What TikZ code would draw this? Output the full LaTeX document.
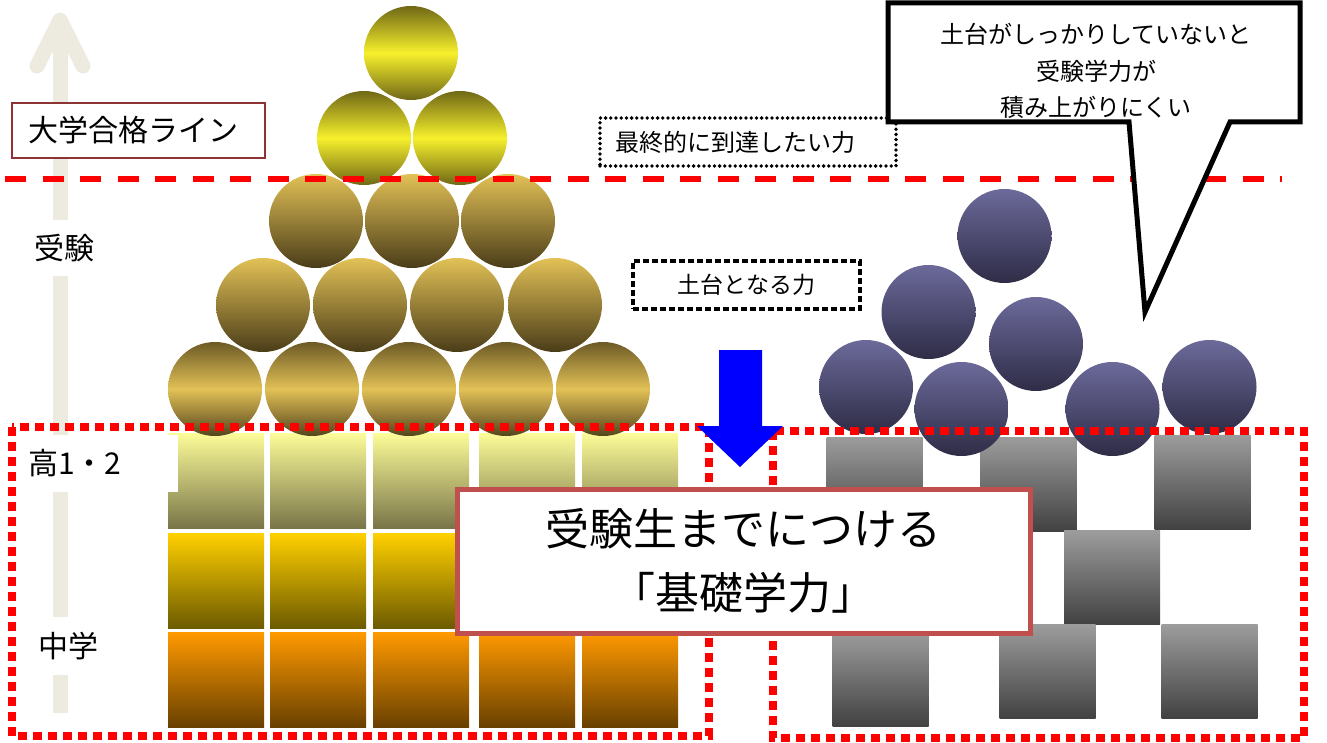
\documentclass[tikz,border=0pt]{standalone}
\usepackage{fontspec}
\setmainfont{Noto Sans CJK JP}
\usepackage{tikz}
\usetikzlibrary{positioning,calc}

\definecolor{ylwDark}{RGB}{112,104,22}
\definecolor{ylwLight}{RGB}{246,240,44}
\definecolor{goldLight}{RGB}{226,193,86}
\definecolor{goldDark}{RGB}{74,60,24}
\definecolor{goldEdge}{RGB}{108,90,38}
\definecolor{navyLight}{RGB}{108,106,154}
\definecolor{navyDark}{RGB}{46,44,70}
\definecolor{grayLight}{RGB}{156,156,156}
\definecolor{grayDark}{RGB}{66,66,66}
\definecolor{lemonTop}{RGB}{252,252,152}
\definecolor{lemonBot}{RGB}{120,116,72}
\definecolor{amberTop}{RGB}{255,208,0}
\definecolor{amberBot}{RGB}{108,90,0}
\definecolor{orangeTop}{RGB}{255,153,0}
\definecolor{orangeBot}{RGB}{104,64,0}
\definecolor{beige}{RGB}{237,235,224}
\definecolor{lineRed}{RGB}{255,0,0}
\definecolor{boxRed}{RGB}{140,52,52}
\definecolor{calloutRed}{RGB}{192,80,77}

\begin{document}
\begin{tikzpicture}[x=1pt,y=-1pt,
    ball/.style={circle, minimum size=94pt, inner sep=0pt},
    topball/.style={ball, top color=ylwDark, bottom color=ylwDark, middle color=ylwLight},
    midball/.style={ball, top color=goldLight, bottom color=goldDark},
    lowball/.style={ball, top color=goldEdge, bottom color=goldDark!70!goldEdge, middle color=goldLight},
    navyball/.style={ball, top color=navyLight, bottom color=navyDark},
    block/.style={rectangle, minimum width=96pt, minimum height=95pt, inner sep=0pt},
    grayblock/.style={block, minimum height=94pt, top color=grayLight, bottom color=grayDark},
    redframe/.style={lineRed, line width=7.5pt, dash pattern=on 9pt off 6pt},
    sidelabel/.style={fill=white, inner sep=0pt, font=\fontsize{30}{36}\selectfont}]
    \useasboundingbox (0,0) rectangle (1327,743);

    % Draw level arrow
    \draw[beige, line width=15pt] (60,713) -- (60,22);
    \draw[beige, line width=15pt, line cap=round, line join=round] (37,66) -- (60,20) -- (83,66);

    % Draw gold blocks
    \foreach \x [count=\i] in {216,318,421,527,630} {
        \node[block, top color=lemonTop, bottom color=lemonBot] (hs\i) at (\x,481) {};
        \node[block, top color=amberTop, bottom color=amberBot] (ms\i) at (\x,581) {};
        \node[block, top color=orangeTop, bottom color=orangeBot] (js\i) at (\x,680) {};
    }

    % Draw level labels
    \node[draw=boxRed, line width=1.5pt, fill=white, minimum width=253pt, minimum height=55pt,
        text width=221pt, inner xsep=16pt, align=left, font=\fontsize{30}{36}\selectfont] (goal) at (138.5,130.5) {大学合格ライン};
    \node[sidelabel, minimum height=56pt] (exam) at (64,248) {受験};
    \node[sidelabel, minimum width=153pt, minimum height=57pt, text width=147pt, inner xsep=3pt, align=left] (high) at (101.5,463.5) {高1・2};
    \node[sidelabel, minimum height=58pt] (junior) at (68,646) {中学};

    % Draw gold pyramid
    \node[topball] (y1) at (411,53) {};
    \node[topball] (y2) at (364,138) {};
    \node[topball] (y3) at (460,138) {};
    \node[midball] (a1) at (316,221) {};
    \node[midball] (a2) at (412,221) {};
    \node[midball] (a3) at (508,221) {};
    \node[midball] (b1) at (263,305) {};
    \node[midball] (b2) at (360,305) {};
    \node[midball] (b3) at (457,305) {};
    \node[midball] (b4) at (555,305) {};
    \node[lowball] (c1) at (215,389) {};
    \node[lowball] (c2) at (312,389) {};
    \node[lowball] (c3) at (409,389) {};
    \node[lowball] (c4) at (506,389) {};
    \node[lowball] (c5) at (603,389) {};

    % Draw gray blocks
    \node[grayblock] (g1) at (874.5,484) {};
    \node[grayblock] (g2) at (1028.5,484) {};
    \node[grayblock] (g3) at (1202.5,482) {};
    \node[grayblock] (g4) at (1112,577.5) {};
    \node[grayblock] (g5) at (880.5,679) {};
    \node[grayblock] (g6) at (1047.5,671.5) {};
    \node[grayblock] (g7) at (1209.5,671.5) {};

    % Draw loose balls
    \node[navyball] (n1) at (1004.5,236) {};
    \node[navyball] (n2) at (928.5,312) {};
    \node[navyball] (n3) at (1036,344) {};
    \node[navyball] (n4) at (866,387) {};
    \node[navyball] (n5) at (961.5,409) {};
    \node[navyball] (n6) at (1112.5,409) {};
    \node[navyball] (n7) at (1209.5,387) {};

    % Draw red frames
    \draw[redframe] (12,427) rectangle (709,736);
    \draw[redframe] (773,431) rectangle (1304,738);

    % Draw pass line
    \draw[lineRed, line width=6pt, dash pattern=on 21pt off 16.5pt] (5,179) -- (1282,179);

    % Draw dotted labels
    \node[draw, line width=3.8pt, dash pattern=on 0pt off 5.2pt, line cap=round, minimum width=296pt, minimum height=48pt,
        text width=266pt, inner xsep=15pt, align=left, font=\fontsize{24}{28}\selectfont] (final) at (748,142) {最終的に到達したい力};
    \node[draw, line width=4pt, dash pattern=on 6pt off 3pt, minimum width=227pt, minimum height=48pt,
        font=\fontsize{23}{28}\selectfont] (base) at (746.5,285) {土台となる力};

    % Draw speech bubble
    \draw[line width=5pt, fill=white] (888,3) -- (1300,3) -- (1300,122) -- (1230,122) -- (1145,312) -- (1129,122) -- (888,122) -- cycle;
    \node[align=center, font=\fontsize{24}{36.5}\selectfont] (warn) at (1096,71) {土台がしっかりしていないと\\受験学力が\\積み上がりにくい};

    % Draw blue arrow
    \fill[blue] (719,350) -- (762,350) -- (762,426) -- (783,426) -- (740,467) -- (697,426) -- (719,426) -- cycle;

    % Draw main message
    \node[draw=calloutRed, line width=5pt, fill=white, minimum width=573pt, minimum height=144pt,
        align=center, font=\fontsize{44}{64}\selectfont] (basic) at (743.5,561) {受験生までにつける\\「基礎学力」};
\end{tikzpicture}
\end{document}
